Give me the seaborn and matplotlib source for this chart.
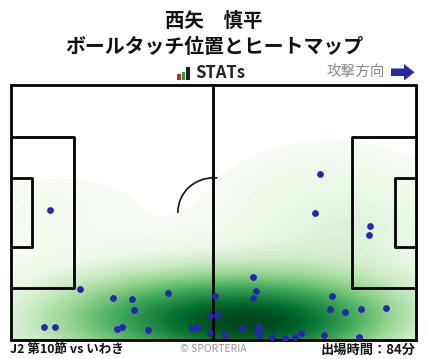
import matplotlib
matplotlib.use("Agg")
import matplotlib.pyplot as plt
import seaborn as sns
import pandas as pd
from matplotlib.patches import Rectangle, Polygon

sns.set_theme(style="white")
plt.rcParams['font.family'] = ['Noto Sans CJK JP', 'DejaVu Sans']

# Header / footer text
PLAYER = "西矢　慎平"
SUBTITLE = "ボールタッチ位置とヒートマップ"
BRAND = "STATs"
DIRECTION = "攻撃方向"
MATCH = "J2 第10節 vs いわき"
CREDIT = "© SPORTERIA"
MINUTES = "出場時間：84分"

# Ball touch locations in metres (pitch 105 x 68, attacking left -> right)
touch_x = [10.2, 18.1, 26.6, 31.5, 32.1, 40.9, 8.8, 11.6, 27.7, 28.9,
           35.7, 47.1, 48.4, 51.7, 51.7, 53.0, 53.6, 62.9, 63.6, 62.9,
           55.6, 60.0, 64.4, 64.0, 64.4, 67.8, 71.2, 73.7, 75.3, 80.2,
           78.9, 93.2, 92.9, 83.3, 82.8, 86.7, 90.8, 97.3, 81.3, 90.3]
touch_y = [34.6, 13.5, 11.1, 10.8, 7.9, 12.4, 3.4, 3.4, 2.8, 3.4,
           2.6, 3.1, 3.4, 6.3, 1.8, 11.6, 6.6, 16.7, 13.0, 11.1,
           1.3, 3.1, 3.4, 2.6, 1.3, 0.7, 0.5, 0.7, 1.8, 44.1,
           33.7, 30.3, 27.9, 11.6, 8.2, 7.4, 8.2, 8.4, 1.3, 0.7]

touches = pd.DataFrame({"x": touch_x, "y": touch_y})

PITCH_L, PITCH_W = 105.0, 68.0

W, H = 428, 359
fig = plt.figure(figsize=(W / 100, H / 100), dpi=100)
fig.patch.set_facecolor("white")

ax = fig.add_axes([10.5 / W, (H - 340) / H, 405.5 / W, 255.5 / H])
ax.set_xlim(0, PITCH_L)
ax.set_ylim(0, PITCH_W)
ax.set_axis_off()

# centre circle sits underneath the heat map
ax.add_patch(plt.Circle((PITCH_L / 2, PITCH_W / 2), 9.15, fill=False,
                        ec="#111111", lw=1.2, zorder=1))

sns.kdeplot(data=touches, x="x", y="y", fill=True, cmap="Greens",
            levels=50, thresh=0.015, bw_adjust=1.35,
            clip=((0, PITCH_L), (0, PITCH_W)), ax=ax, zorder=2)
ax.set_xlim(0, PITCH_L)
ax.set_ylim(0, PITCH_W)

lk = dict(color="black", lw=2.0, zorder=3, solid_capstyle="butt")
# halfway line
ax.plot([PITCH_L / 2, PITCH_L / 2], [0, PITCH_W], **lk)
# penalty and goal areas
for x0, sgn in ((0, 1), (PITCH_L, -1)):
    pb = 16.5
    ax.plot([x0, x0 + sgn * pb, x0 + sgn * pb, x0],
            [PITCH_W / 2 - 20.16, PITCH_W / 2 - 20.16, PITCH_W / 2 + 20.16, PITCH_W / 2 + 20.16], **lk)
    ga = 5.5
    ax.plot([x0, x0 + sgn * ga, x0 + sgn * ga, x0],
            [PITCH_W / 2 - 9.16, PITCH_W / 2 - 9.16, PITCH_W / 2 + 9.16, PITCH_W / 2 + 9.16], **lk)
# outer boundary
ax.add_patch(Rectangle((0, 0), PITCH_L, PITCH_W, fill=False, ec="black",
                       lw=2.0, zorder=3, clip_on=False))

sns.scatterplot(data=touches, x="x", y="y", color="#2626b0", s=24,
                linewidth=0, ax=ax, zorder=4, legend=False)
ax.set_xlabel("")
ax.set_ylabel("")

# titles
fig.text(0.5, 1 - 21 / H, PLAYER, ha="center", va="center",
         fontsize=14, fontweight="bold", color="#111111")
fig.text(0.5, 1 - 46.5 / H, SUBTITLE, ha="center", va="center",
         fontsize=14.3, fontweight="bold", color="#111111")

# brand mark: three small bars + wordmark
for (x0, x1, y0, y1, c) in ((177, 180.5, 73.5, 79.5, "#e02020"),
                            (181.5, 185, 71.5, 79.5, "#20a040"),
                            (186, 189.5, 67.5, 79.5, "#222222")):
    fig.add_artist(Rectangle((x0 / W, 1 - y1 / H), (x1 - x0) / W, (y1 - y0) / H,
                             transform=fig.transFigure, fc=c, ec="none"))
fig.text(195 / W, 1 - 73.5 / H, BRAND, ha="left", va="center",
         fontsize=12, fontweight="bold", color="#222222")

# attack direction
fig.text(385 / W, 1 - 72 / H, DIRECTION, ha="right", va="center",
         fontsize=10.5, color="#888888")
arrow_px = [(391, 68.5), (404, 68.5), (404, 64), (414.5, 72.2), (404, 80.5),
            (404, 76), (391, 76)]
fig.add_artist(Polygon([(x / W, 1 - y / H) for x, y in arrow_px], closed=True,
                       transform=fig.transFigure, fc="#2a2aa8", ec="none"))

# footer
fig.text(10.5 / W, 1 - 349.5 / H, MATCH, ha="left", va="center",
         fontsize=9, fontweight="bold", color="#111111")
fig.text(213 / W, 1 - 348.5 / H, CREDIT, ha="center", va="center",
         fontsize=7.5, color="#999999")
fig.text(416 / W, 1 - 349.5 / H, MINUTES, ha="right", va="center",
         fontsize=9.5, fontweight="bold", color="#111111")

fig.savefig("out.png", dpi=100, facecolor="white")
